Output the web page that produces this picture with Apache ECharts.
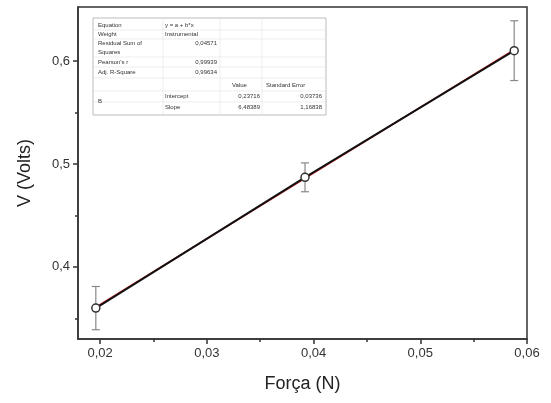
<!DOCTYPE html>
<html>
<head>
<meta charset="utf-8">
<script src="https://cdn.jsdelivr.net/npm/echarts@6/dist/echarts.min.js"></script>
<style>
  html, body { margin: 0; padding: 0; background: #fff; }
  #chart { width: 551px; height: 403px; }
</style>
</head>
<body>
<div id="chart"></div>
<script>
// dados medidos
var forca = [0.0196, 0.0392, 0.0588];
var volts = [0.36, 0.487, 0.61];
var erro = [0.021, 0.014, 0.029];
// reta ajustada (extremos)
var fitX = [0.0196, 0.0588];
var fitY = [0.361, 0.611];
var xTicks = [0.02, 0.03, 0.04, 0.05, 0.06];
var xMinor = [0.025, 0.035, 0.045, 0.055];
var yTicks = [0.4, 0.5, 0.6];
var yMinor = [0.35, 0.45, 0.55];

// tabela do ajuste
var tabLabels = ['Equation', 'Weight', 'Residual Sum of', 'Squares', 'Pearson\'s r', 'Adj. R-Square'];
var tabValues = ['y = a + b*x', 'Instrumental', '0,04571', '', '0,99939', '0,99634'];
var tabHead = ['Value', 'Standard Error'];
var tabParams = ['Intercept', 'Slope'];
var tabParamVal = ['0,23716', '6,48389'];
var tabParamErr = ['0,03736', '1,16838'];

function virgula(v) {
    return String(+v.toFixed(3)).replace('.', ',');
}

var chart = echarts.init(document.getElementById('chart'));

var txt = [];
var ty = [25, 34, 43, 52, 62, 72];
for (var i = 0; i < tabLabels.length; i++) {
    txt.push({ type: 'text', x: 98, y: ty[i], style: { text: tabLabels[i], font: '6px Arial', fill: '#333', verticalAlign: 'middle' } });
    if (tabValues[i]) {
        var num = i >= 2;
        txt.push({ type: 'text', x: num ? 217 : 165, y: ty[i], style: { text: tabValues[i], font: '6px Arial', fill: '#333', align: num ? 'right' : 'left', verticalAlign: 'middle' } });
    }
}
txt.push({ type: 'text', x: 232, y: 85, style: { text: tabHead[0], font: '6px Arial', fill: '#333', verticalAlign: 'middle' } });
txt.push({ type: 'text', x: 266, y: 85, style: { text: tabHead[1], font: '6px Arial', fill: '#333', verticalAlign: 'middle' } });
txt.push({ type: 'text', x: 98, y: 101, style: { text: 'B', font: '6px Arial', fill: '#333', verticalAlign: 'middle' } });
for (var j = 0; j < tabParams.length; j++) {
    var yy = 96 + j * 11;
    txt.push({ type: 'text', x: 165, y: yy, style: { text: tabParams[j], font: '6px Arial', fill: '#333', verticalAlign: 'middle' } });
    txt.push({ type: 'text', x: 260, y: yy, style: { text: tabParamVal[j], font: '6px Arial', fill: '#333', align: 'right', verticalAlign: 'middle' } });
    txt.push({ type: 'text', x: 322, y: yy, style: { text: tabParamErr[j], font: '6px Arial', fill: '#333', align: 'right', verticalAlign: 'middle' } });
}
var linhas = [];
[30, 39, 57, 67, 78, 91, 102].forEach(function (y) {
    linhas.push({ type: 'line', shape: { x1: 94, y1: y, x2: 325, y2: y }, style: { stroke: '#e2e2e2', lineWidth: 0.6 } });
});
[163, 220, 262].forEach(function (x) {
    linhas.push({ type: 'line', shape: { x1: x, y1: 19, x2: x, y2: 114 }, style: { stroke: '#e2e2e2', lineWidth: 0.6 } });
});

chart.setOption({
    animation: false,
    grid: { left: 78, right: 24, top: 7, bottom: 64, show: true, borderColor: '#333', borderWidth: 1.5 },
    xAxis: [{
        type: 'value', min: 0.01793, max: 0.06,
        name: 'Força (N)', nameLocation: 'middle', nameGap: 36,
        nameTextStyle: { fontSize: 18, color: '#222', fontFamily: 'Arial' },
        axisLine: { lineStyle: { color: '#333', width: 1.5 } },
        axisTick: { customValues: xTicks, length: 5, lineStyle: { color: '#333', width: 1.5 } },
        axisLabel: { customValues: xTicks, formatter: virgula, fontSize: 13, color: '#333', margin: 8, fontFamily: 'Arial' },
        splitLine: { show: false }
    }, {
        type: 'value', min: 0.01793, max: 0.06, position: 'bottom',
        axisLine: { show: false },
        axisTick: { customValues: xMinor, length: 3, lineStyle: { color: '#333', width: 1.5 } },
        axisLabel: { show: false },
        splitLine: { show: false }
    }],
    yAxis: [{
        type: 'value', min: 0.330, max: 0.6524,
        name: 'V (Volts)', nameLocation: 'middle', nameGap: 44, nameRotate: 90,
        nameTextStyle: { fontSize: 18, color: '#222', fontFamily: 'Arial' },
        axisLine: { show: true, lineStyle: { color: '#333', width: 1.5 } },
        axisTick: { show: true, customValues: yTicks, length: 5, lineStyle: { color: '#333', width: 1.5 } },
        axisLabel: { customValues: yTicks, formatter: function (v) { return String(+v.toFixed(1)).replace('.', ','); }, fontSize: 13, color: '#333', margin: 8, fontFamily: 'Arial' },
        splitLine: { show: false }
    }, {
        type: 'value', min: 0.330, max: 0.6524, position: 'left',
        axisLine: { show: false },
        axisTick: { show: true, customValues: yMinor, length: 3, lineStyle: { color: '#333', width: 1.5 } },
        axisLabel: { show: false },
        splitLine: { show: false }
    }],
    graphic: [
        { type: 'rect', shape: { x: 93, y: 18, width: 233, height: 97 }, style: { fill: '#fff', stroke: '#bbb', lineWidth: 1 } }
    ].concat(linhas).concat(txt),
    series: [{
        type: 'line', name: 'ajuste',
        data: fitX.map(function (x, i) { return [x, fitY[i]]; }),
        symbol: 'none', lineStyle: { color: '#e03030', width: 1.6 }, z: 2
    }, {
        type: 'custom', name: 'erro',
        renderItem: function (params, api) {
            var x = api.value(0), y = api.value(1), e = api.value(2);
            var top = api.coord([x, y + e]), bot = api.coord([x, y - e]);
            var s = { stroke: '#888', lineWidth: 1.2 };
            return {
                type: 'group', children: [
                    { type: 'line', shape: { x1: top[0], y1: top[1], x2: bot[0], y2: bot[1] }, style: s },
                    { type: 'line', shape: { x1: top[0] - 4, y1: top[1], x2: top[0] + 4, y2: top[1] }, style: s },
                    { type: 'line', shape: { x1: bot[0] - 4, y1: bot[1], x2: bot[0] + 4, y2: bot[1] }, style: s }
                ]
            };
        },
        data: forca.map(function (x, i) { return [x, volts[i], erro[i]]; }),
        z: 1
    }, {
        type: 'line', name: 'dados',
        data: forca.map(function (x, i) { return [x, volts[i]]; }),
        symbol: 'circle', symbolSize: 8,
        itemStyle: { color: '#fff', borderColor: '#333', borderWidth: 1.5 },
        lineStyle: { color: '#111', width: 2 }, z: 3
    }]
});
</script>
</body>
</html>
